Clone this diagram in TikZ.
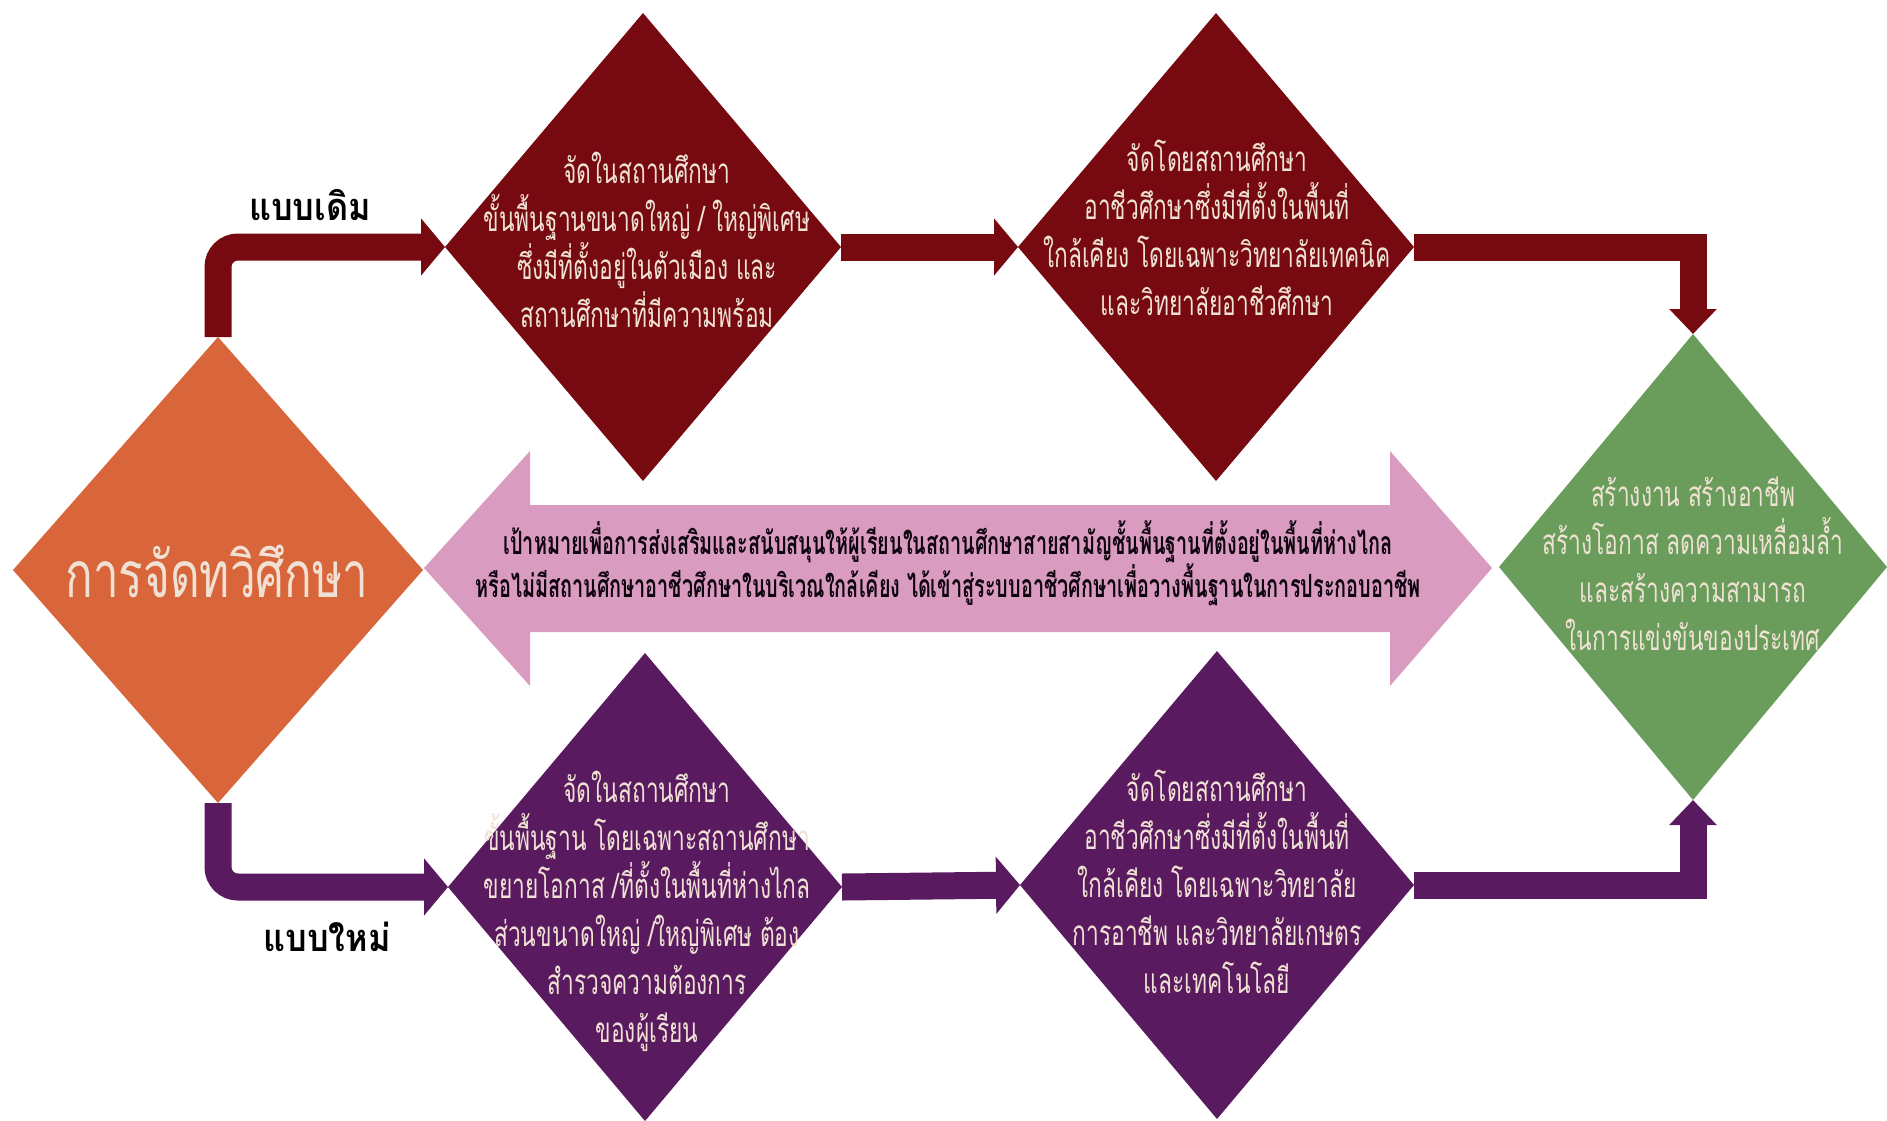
\documentclass[tikz,border=0pt]{standalone}
\usepackage{fontspec}
\usetikzlibrary{shapes.geometric,arrows.meta}
\newfontfamily\thcond[Script=Thai,FakeStretch=0.65]{Loma}
\newfontfamily\thpink[Script=Thai,FakeStretch=0.62]{Loma}
\newfontfamily\thtitle[Script=Thai,FakeStretch=0.715]{Loma}
\newfontfamily\thlabel[Script=Thai,FakeStretch=0.9]{Loma}
\definecolor{cRed}{HTML}{760A10}
\definecolor{cPur}{HTML}{5A1A60}
\definecolor{cOra}{HTML}{D9653B}
\definecolor{cGre}{HTML}{6A9C5B}
\definecolor{cPink}{HTML}{DA9BC1}
\definecolor{cText}{HTML}{EFE2D4}
\tikzset{
  dia/.style={diamond,draw=none,inner sep=0pt,outer sep=0pt},
  dtext/.style={align=center,text=cText,inner sep=0pt,font=\thcond\fontsize{35}{48}\selectfont},
  conn/.style={line width=27pt,line join=miter},
  head/.style={-{Triangle[width=56pt,length=24pt]}},
  headR/.style={-{Triangle[width=46pt,length=25pt]}},
  lbl/.style={inner sep=0pt,text=black,font=\thlabel\bfseries\fontsize{38}{44}\selectfont}
}
\begin{document}
\begin{tikzpicture}[x=1pt,y=-1pt]
\useasboundingbox[fill=white] (0,0) rectangle (1887,1120);
% diamonds (shapes)
\node[dia,fill=cOra,minimum width=410pt,minimum height=466pt] (d0) at (218,570) {};
\node[dia,fill=cRed,minimum width=396pt,minimum height=468pt] (d1) at (643,247) {};
\node[dia,fill=cRed,minimum width=396pt,minimum height=468pt] (d2) at (1216,247) {};
\node[dia,fill=cPur,minimum width=394pt,minimum height=468pt] (d3) at (645,887) {};
\node[dia,fill=cPur,minimum width=394pt,minimum height=468pt] (d4) at (1217,885) {};
\node[dia,fill=cGre,minimum width=388pt,minimum height=466pt] (d5) at (1693,567) {};
% connectors
\draw[conn,cRed,head,rounded corners=20pt] (d0.north) |- (d1.west);
\draw[conn,cRed,head] (d1.east) -- (d2.west);
\draw[conn,cRed,headR] (d2.east) -| (d5.north);
\draw[conn,cPur,head,rounded corners=20pt] (d0.south) |- (d3.west);
\draw[conn,cPur,head] (d3.east) -- (d4.west);
\draw[conn,cPur,headR] (d4.east) -| (d5.south);
% pink double arrow
\fill[cPink] (424,568) -- (530,451) -- (530,505) -- (1390,505) -- (1390,451) -- (1492,568)
  -- (1390,686) -- (1390,632) -- (530,632) -- (530,686) -- cycle;
% texts
\node[dtext,font=\thtitle\fontsize{64}{74}\selectfont] (t0) at (217,571) {การจัดทวิศึกษา};
\node[dtext] (t1) at (647,240) {จัดในสถานศึกษา\\ขั้นพื้นฐานขนาดใหญ่ / ใหญ่พิเศษ\\ซึ่งมีที่ตั้งอยู่ในตัวเมือง และ\\สถานศึกษาที่มีความพร้อม};
\node[dtext] (t2) at (1217,228) {จัดโดยสถานศึกษา\\อาชีวศึกษาซึ่งมีที่ตั้งในพื้นที่\\ใกล้เคียง โดยเฉพาะวิทยาลัยเทคนิค\\และวิทยาลัยอาชีวศึกษา};
\node[dtext] (t3) at (647,911) {จัดในสถานศึกษา\\ขั้นพื้นฐาน โดยเฉพาะสถานศึกษา\\ขยายโอกาส /ที่ตั้งในพื้นที่ห่างไกล\\ส่วนขนาดใหญ่ /ใหญ่พิเศษ ต้อง\\สำรวจความต้องการ\\ของผู้เรียน};
\node[dtext] (t4) at (1217,882) {จัดโดยสถานศึกษา\\อาชีวศึกษาซึ่งมีที่ตั้งในพื้นที่\\ใกล้เคียง โดยเฉพาะวิทยาลัย\\การอาชีพ และวิทยาลัยเกษตร\\และเทคโนโลยี};
\node[dtext] (t5) at (1693,564) {สร้างงาน สร้างอาชีพ\\สร้างโอกาส ลดความเหลื่อมล้ำ\\และสร้างความสามารถ\\ในการแข่งขันของประเทศ};
\node[align=center,inner sep=0pt,text=black!85!cPur,font=\thpink\bfseries\fontsize{32}{43}\selectfont] (tp) at (948,563)
  {เป้าหมายเพื่อการส่งเสริมและสนับสนุนให้ผู้เรียนในสถานศึกษาสายสามัญชั้นพื้นฐานที่ตั้งอยู่ในพื้นที่ห่างไกล\\หรือไม่มีสถานศึกษาอาชีวศึกษาในบริเวณใกล้เคียง ได้เข้าสู่ระบบอาชีวศึกษาเพื่อวางพื้นฐานในการประกอบอาชีพ};
\node[lbl] (l1) at (310,205) {แบบเดิม};
\node[lbl] (l2) at (327,937) {แบบใหม่};
\end{tikzpicture}
\end{document}
